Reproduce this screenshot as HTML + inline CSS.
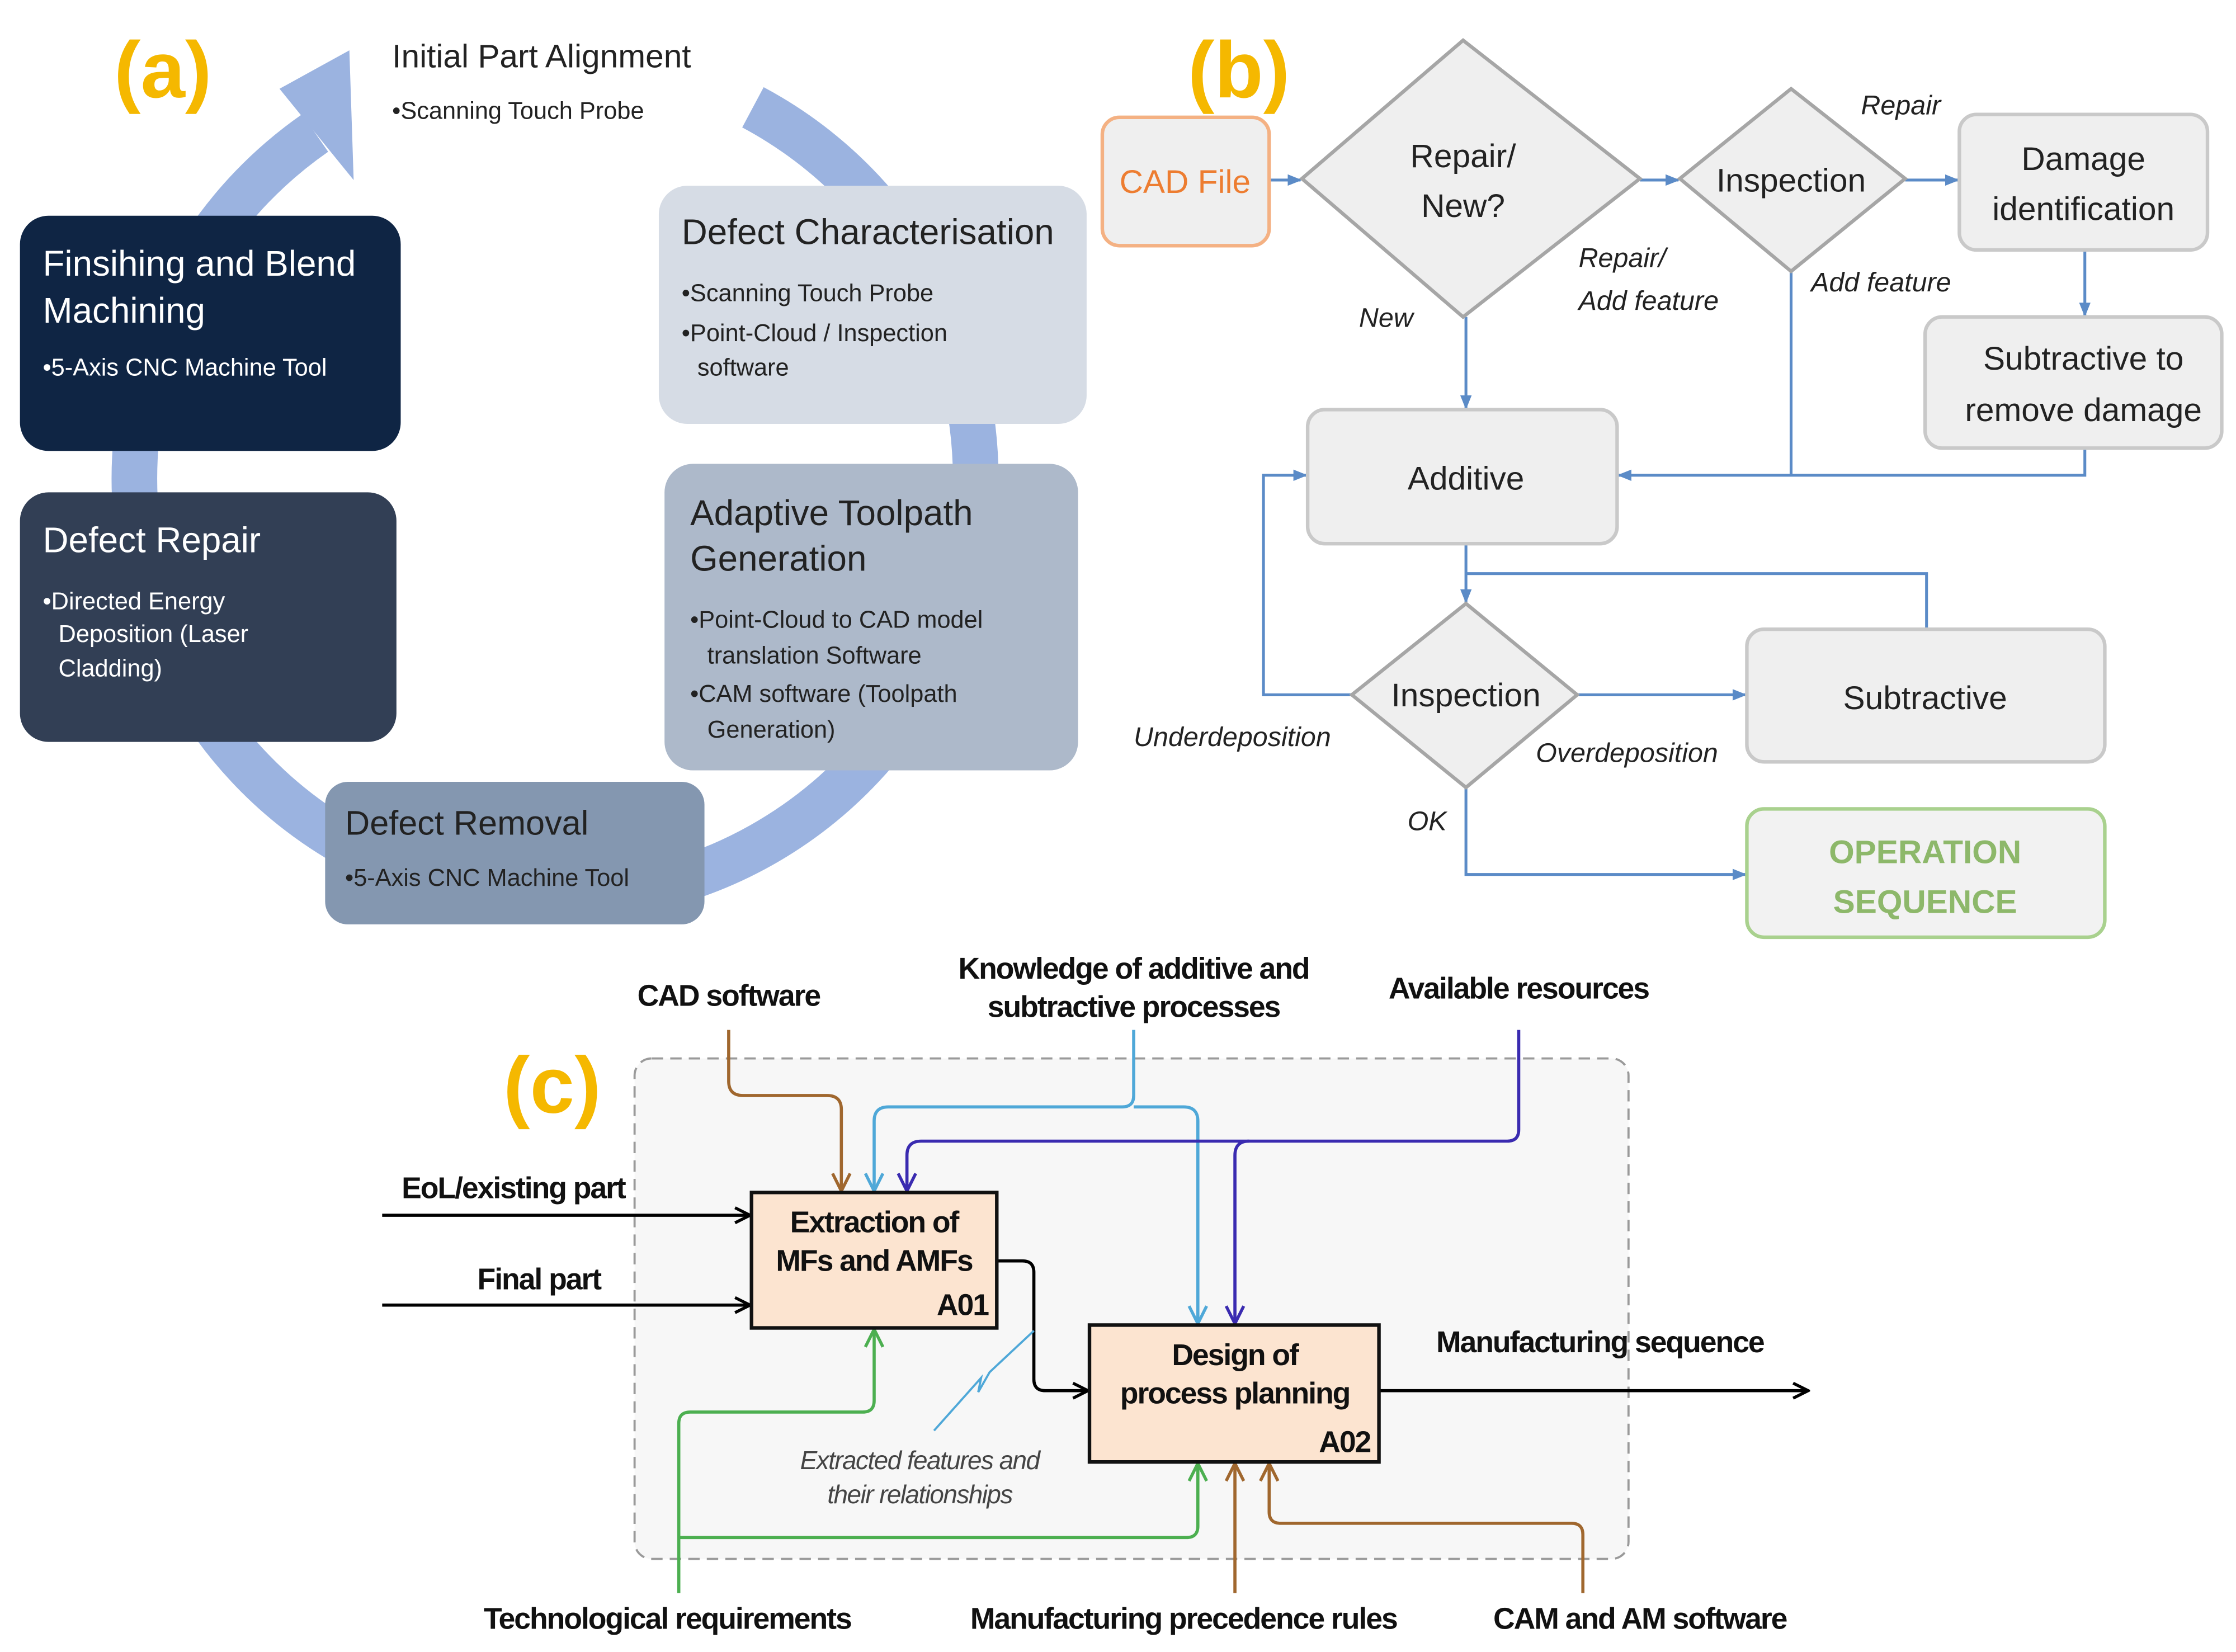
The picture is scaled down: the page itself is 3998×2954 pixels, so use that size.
<!DOCTYPE html>
<html><head><meta charset="utf-8"><style>
html,body{margin:0;padding:0;background:#fff;}
svg{display:block;}
.c{font-family:"Liberation Sans",sans-serif;}
</style></head><body>
<svg width="3998" height="2954" viewBox="0 0 1568 1158" xmlns="http://www.w3.org/2000/svg" class="c">
<defs>
<marker id="ab" viewBox="0 0 10 10" refX="9" refY="5" markerWidth="5" markerHeight="5" orient="auto"><path d="M0,1 L10,5 L0,9 z" fill="#5B8BC7"/></marker>
<marker id="ak" viewBox="0 0 10 10" refX="9" refY="5" markerWidth="6" markerHeight="6" orient="auto"><path d="M1,1 L9,5 L1,9" fill="none" stroke="#000" stroke-width="1.6"/></marker>
<marker id="abr" viewBox="0 0 10 10" refX="9" refY="5" markerWidth="7" markerHeight="7" orient="auto"><path d="M1,1 L9,5 L1,9" fill="none" stroke="#A0672E" stroke-width="1.4"/></marker>
<marker id="alb" viewBox="0 0 10 10" refX="9" refY="5" markerWidth="7" markerHeight="7" orient="auto"><path d="M1,1 L9,5 L1,9" fill="none" stroke="#4FA8D8" stroke-width="1.4"/></marker>
<marker id="apu" viewBox="0 0 10 10" refX="9" refY="5" markerWidth="7" markerHeight="7" orient="auto"><path d="M1,1 L9,5 L1,9" fill="none" stroke="#3A2BB0" stroke-width="1.4"/></marker>
<marker id="agr" viewBox="0 0 10 10" refX="9" refY="5" markerWidth="7" markerHeight="7" orient="auto"><path d="M1,1 L9,5 L1,9" fill="none" stroke="#4CAF50" stroke-width="1.4"/></marker>
</defs>

<!-- (a) ring -->
<path d="M528,75 A295,295 0 1 1 221,93" fill="none" stroke="#9BB3E0" stroke-width="32"/>
<polygon points="196,62 248,126 245,35" fill="#9BB3E0"/>
<text x="80" y="68" font-size="56" font-weight="bold" fill="#F5B800">(a)</text>
<text x="275" y="47" font-size="23" fill="#222">Initial Part Alignment</text>
<text x="275" y="83" font-size="17" fill="#222">•Scanning Touch Probe</text>

<rect x="14" y="151" width="267" height="165" rx="20" fill="#0F2544"/>
<text x="30" y="193" font-size="25" fill="#fff">Finsihing and Blend</text>
<text x="30" y="226" font-size="25" fill="#fff">Machining</text>
<text x="30" y="263" font-size="17" fill="#fff">•5-Axis CNC Machine Tool</text>

<rect x="14" y="345" width="264" height="175" rx="20" fill="#323F55"/>
<text x="30" y="387" font-size="25" fill="#fff">Defect Repair</text>
<text x="30" y="427" font-size="17" fill="#fff">•Directed Energy</text>
<text x="41" y="450" font-size="17" fill="#fff">Deposition (Laser</text>
<text x="41" y="474" font-size="17" fill="#fff">Cladding)</text>

<rect x="228" y="548" width="266" height="100" rx="16" fill="#8497B0"/>
<text x="242" y="585" font-size="24" fill="#222">Defect Removal</text>
<text x="242" y="621" font-size="17" fill="#222">•5-Axis CNC Machine Tool</text>

<rect x="462" y="130" width="300" height="167" rx="20" fill="#D6DCE5"/>
<text x="478" y="171" font-size="25" fill="#222">Defect Characterisation</text>
<text x="478" y="211" font-size="17" fill="#222">•Scanning Touch Probe</text>
<text x="478" y="239" font-size="17" fill="#222">•Point-Cloud / Inspection</text>
<text x="489" y="263" font-size="17" fill="#222">software</text>

<rect x="466" y="325" width="290" height="215" rx="20" fill="#ADB9CA"/>
<text x="484" y="368" font-size="25" fill="#222">Adaptive Toolpath</text>
<text x="484" y="400" font-size="25" fill="#222">Generation</text>
<text x="484" y="440" font-size="17" fill="#222">•Point-Cloud  to CAD model</text>
<text x="496" y="465" font-size="17" fill="#222">translation Software</text>
<text x="484" y="492" font-size="17" fill="#222">•CAM software (Toolpath</text>
<text x="496" y="517" font-size="17" fill="#222">Generation)</text>

<!-- (b) -->
<text x="833" y="68" font-size="56" font-weight="bold" fill="#F5B800">(b)</text>
<g stroke="#5B8BC7" stroke-width="2" fill="none">
<path d="M890,126 H912" marker-end="url(#ab)"/>
<path d="M1150,126 H1177" marker-end="url(#ab)"/>
<path d="M1336,126 H1373" marker-end="url(#ab)"/>
<path d="M1462,175 V221" marker-end="url(#ab)"/>
<path d="M1462,314 V333 H1135" marker-end="url(#ab)"/>
<path d="M1256,190 V333"/>
<path d="M1028,222 V286" marker-end="url(#ab)"/>
<path d="M1028,381 V422" marker-end="url(#ab)"/>
<path d="M1028,402 H1351 V441"/>
<path d="M948,487 H886 V333 H916" marker-end="url(#ab)"/>
<path d="M1106,487 H1224" marker-end="url(#ab)"/>
<path d="M1028,552 V613 H1224" marker-end="url(#ab)"/>
</g>
<g stroke="#A6A6A6" stroke-width="2.5" fill="#EFEFEF">
<rect x="773" y="82" width="117" height="90" rx="12" stroke="#F4B183"/>
<polygon points="1026,28 1150,125 1026,222 913,125"/>
<polygon points="1256,62 1336,125 1256,190 1178,125"/>
<rect x="1374" y="80" width="174" height="95" rx="12" stroke="#C9C9C9"/>
<rect x="1350" y="222" width="208" height="92" rx="12" stroke="#C9C9C9"/>
<rect x="917" y="287" width="217" height="94" rx="12" stroke="#C9C9C9"/>
<polygon points="1028,423 1106,487 1028,552 948,487"/>
<rect x="1225" y="441" width="251" height="93" rx="12" stroke="#C9C9C9"/>
<rect x="1225" y="567" width="251" height="90" rx="12" stroke="#A9D18E" fill="#F2F2F2"/>
</g>
<g font-size="23" fill="#222" text-anchor="middle">
<text x="831" y="135" fill="#ED7D31">CAD File</text>
<text x="1026" y="117">Repair/</text>
<text x="1026" y="152">New?</text>
<text x="1256" y="134">Inspection</text>
<text x="1461" y="119">Damage</text>
<text x="1461" y="154">identification</text>
<text x="1461" y="259">Subtractive to</text>
<text x="1461" y="295">remove damage</text>
<text x="1028" y="343">Additive</text>
<text x="1028" y="495">Inspection</text>
<text x="1350" y="497">Subtractive</text>
<text x="1350" y="605" fill="#8DB86A" font-weight="bold">OPERATION</text>
<text x="1350" y="640" fill="#8DB86A" font-weight="bold">SEQUENCE</text>
</g>
<g font-size="19" font-style="italic" fill="#222">
<text x="1305" y="80">Repair</text>
<text x="1107" y="187">Repair/</text>
<text x="1107" y="217">Add feature</text>
<text x="953" y="229">New</text>
<text x="1270" y="204">Add feature</text>
<text x="795" y="523">Underdeposition</text>
<text x="1077" y="534">Overdeposition</text>
<text x="987" y="582">OK</text>
</g>

<!-- (c) -->
<rect x="445" y="742" width="697" height="351" rx="12" fill="#F7F7F7" stroke="#9A9A9A" stroke-width="1.5" stroke-dasharray="8,5"/>
<text x="353" y="780" font-size="56" font-weight="bold" fill="#F5B800">(c)</text>
<g fill="none" stroke-width="2.2">
<path d="M268,852 H526" stroke="#000" marker-end="url(#ak)"/>
<path d="M268,915 H526" stroke="#000" marker-end="url(#ak)"/>
<path d="M511,722 V758 Q511,768 521,768 H580 Q590,768 590,778 V835" stroke="#A0672E" marker-end="url(#abr)"/>
<path d="M795,722 V768 Q795,776 787,776 H623 Q613,776 613,786 V835" stroke="#4FA8D8" marker-end="url(#alb)"/>
<path d="M795,776 H830 Q840,776 840,786 V928" stroke="#4FA8D8" marker-end="url(#alb)"/>
<path d="M1065,722 V792 Q1065,800 1057,800 H646 Q636,800 636,810 V835" stroke="#3A2BB0" marker-end="url(#apu)"/>
<path d="M876,800 Q866,800 866,810 V928" stroke="#3A2BB0" marker-end="url(#apu)"/>
<path d="M699,884 H717 Q725,884 725,892 V967 Q725,975 733,975 H763" stroke="#000" marker-end="url(#ak)"/>
<path d="M967,975 H1268" stroke="#000" marker-end="url(#ak)"/>
<path d="M476,1117 V998 Q476,990 484,990 H605 Q613,990 613,982 V932" stroke="#4CAF50" marker-end="url(#agr)"/>
<path d="M476,1078 H832 Q840,1078 840,1070 V1026" stroke="#4CAF50" marker-end="url(#agr)"/>
<path d="M866,1117 V1026" stroke="#A0672E" marker-end="url(#abr)"/>
<path d="M1110,1117 V1076 Q1110,1068 1102,1068 H898 Q890,1068 890,1060 V1026" stroke="#A0672E" marker-end="url(#abr)"/>
<path d="M655,1003 L688,966 L686,976 L694,962 L725,933" stroke="#4FA8D8" stroke-width="1.5"/>
</g>
<rect x="527" y="836" width="172" height="95" fill="#FCE4D0" stroke="#111" stroke-width="2.5"/>
<rect x="764" y="929" width="203" height="96" fill="#FCE4D0" stroke="#111" stroke-width="2.5"/>
<g font-size="21" font-weight="bold" fill="#111" text-anchor="middle" letter-spacing="-0.8">
<text x="613" y="864">Extraction of</text>
<text x="613" y="891">MFs and AMFs</text>
<text x="693" y="922" text-anchor="end">A01</text>
<text x="866" y="957">Design of</text>
<text x="866" y="984">process planning</text>
<text x="961" y="1018" text-anchor="end">A02</text>
<text x="511" y="705">CAD software</text>
<text x="795" y="686">Knowledge of additive and</text>
<text x="795" y="713">subtractive processes</text>
<text x="1065" y="700">Available resources</text>
<text x="360" y="840">EoL/existing part</text>
<text x="378" y="904">Final part</text>
<text x="1122" y="948">Manufacturing sequence</text>
<text x="468" y="1142">Technological requirements</text>
<text x="830" y="1142">Manufacturing precedence rules</text>
<text x="1150" y="1142">CAM and AM software</text>
</g>
<g font-size="18" font-style="italic" fill="#444" text-anchor="middle" letter-spacing="-0.6">
<text x="645" y="1030">Extracted features and</text>
<text x="645" y="1054">their relationships</text>
</g>
</svg>
</body></html>
